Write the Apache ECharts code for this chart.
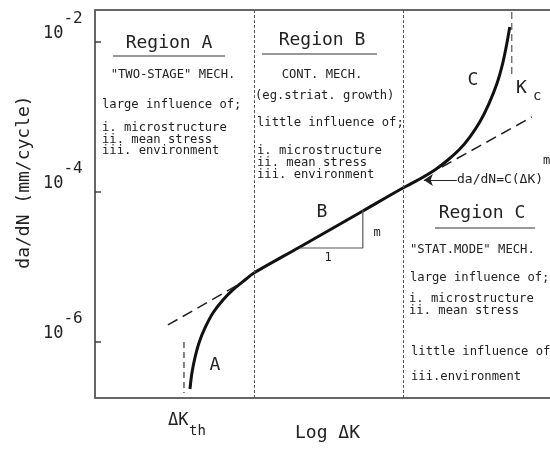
<!DOCTYPE html>
<html>
<head>
<meta charset="utf-8">
<title>Fatigue crack growth regions</title>
<script src="https://cdn.jsdelivr.net/npm/echarts@6/dist/echarts.min.js"></script>
<style>
html, body { margin: 0; padding: 0; background: #fff; }
#main { width: 550px; height: 449px; }
</style>
</head>
<body>
<div id="main"></div>
<script>
// y = exponent of da/dN (mm/cycle), x = log dK in arbitrary units
const yTicks = [-6, -4, -2];
const regionBounds = [2.12, 4.107];

// the sigmoidal growth curve: threshold (A), Paris line (B), fast fracture (C)
const crackCurve = [
  [1.267, -6.627], [1.293, -6.413], [1.333, -6.213], [1.387, -6.013],
  [1.467, -5.813], [1.573, -5.613], [1.707, -5.44], [1.853, -5.293],
  [2.0, -5.173], [2.12, -5.08],
  [2.733, -4.733], [3.573, -4.253],
  [4.107, -3.947], [4.333, -3.827], [4.533, -3.707], [4.707, -3.573],
  [4.867, -3.427], [5.0, -3.267], [5.133, -3.067], [5.253, -2.827],
  [5.36, -2.56], [5.44, -2.28], [5.493, -2.027], [5.533, -1.8]
];
const tangentLow = [[0.973, -5.773], [1.973, -5.2]];
const tangentHigh = [[4.627, -3.667], [5.827, -3.0]];
const thresholdMark = [[1.187, -6.0], [1.187, -6.68]];
const kcMark = [[5.56, -1.6], [5.56, -2.467]];
const slopeTriangle = [[2.733, -4.747], [3.573, -4.747], [3.573, -4.24]];
const arrowLine = [[4.827, -3.84], [4.387, -3.84]];

const regionANotes = ['large influence of;', 'i. microstructure', 'ii. mean stress', 'iii. environment'];
const regionBNotes = ['i. microstructure', 'ii. mean stress', 'iii. environment'];

const MONO = '"DejaVu Sans Mono", monospace';
const INK = '#222';

function txt(x, y, text, size, align) {
  return {
    type: 'text', x: x, y: y, silent: true,
    style: {
      text: text, fill: INK, fontFamily: MONO, fontSize: size,
      align: align || 'left', verticalAlign: 'middle'
    }
  };
}
function rule(x1, y1, x2, y2) {
  return {
    type: 'line', silent: true,
    shape: { x1: x1, y1: y1, x2: x2, y2: y2 },
    style: { stroke: '#333', lineWidth: 1.2 }
  };
}

const small = 12.2;
const graphics = [
  // region A
  txt(169, 43, 'Region A', 18, 'center'),
  rule(113, 56, 225, 56),
  txt(173, 75, '"TWO-STAGE" MECH.', small, 'center'),
  txt(102, 105, regionANotes[0], small),
  txt(102, 128, regionANotes[1], small),
  txt(102, 140, regionANotes[2], small),
  txt(102, 151, regionANotes[3], small),
  // region B
  txt(322, 40, 'Region B', 18, 'center'),
  rule(262, 54, 377, 54),
  txt(322, 75, 'CONT. MECH.', small, 'center'),
  txt(255, 96, '(eg.striat. growth)', small),
  txt(257, 123, 'little influence of;', small),
  txt(257, 151, regionBNotes[0], small),
  txt(257, 163, regionBNotes[1], small),
  txt(257, 175, regionBNotes[2], small),
  // region C
  txt(482, 213, 'Region C', 18, 'center'),
  rule(435, 228, 535, 228),
  txt(410, 250, '"STAT.MODE" MECH.', small),
  txt(410, 278, 'large influence of;', small),
  txt(409, 299, 'i. microstructure', small),
  txt(409, 311, 'ii. mean stress', small),
  txt(411, 352, 'little influence of', small),
  txt(411, 377, 'iii.environment', small),
  // curve notes
  txt(215, 365, 'A', 18, 'center'),
  txt(322, 212, 'B', 18, 'center'),
  txt(473, 80, 'C', 18, 'center'),
  txt(516, 88, 'K', 18),
  txt(533, 96, 'c', 14),
  txt(377, 233, 'm', 12, 'center'),
  txt(328, 258, '1', 12, 'center'),
  txt(457, 180, 'da/dN=C(ΔK)', 13),
  txt(543, 161, 'm', 12),
  // axis titles
  txt(168, 421, 'ΔK', 17),
  txt(189, 431, 'th', 14),
  txt(295, 433, 'Log ΔK', 18),
  Object.assign(txt(24, 182, 'da/dN (mm/cycle)', 18, 'center'), { rotation: Math.PI / 2 })
];

const frameAxis = {
  type: 'value', min: 0, max: 6.07,
  axisLine: { show: true, onZero: false, lineStyle: { color: '#666', width: 2 } },
  axisTick: { show: false },
  axisLabel: { show: false },
  splitLine: { show: false }
};

const option = {
  animation: false,
  backgroundColor: '#fff',
  grid: { left: 95, right: 0, top: 10, bottom: 51 },
  xAxis: [
    Object.assign({ position: 'bottom' }, frameAxis),
    Object.assign({ position: 'top' }, frameAxis)
  ],
  yAxis: {
    type: 'value', min: -6.747, max: -1.573,
    splitLine: { show: false },
    axisLine: { show: true, onZero: false, lineStyle: { color: '#666', width: 2 } },
    axisTick: {
      show: true, inside: true, length: 6, customValues: yTicks,
      lineStyle: { color: '#444', width: 1.5 }
    },
    axisLabel: {
      customValues: yTicks,
      formatter: function (v) { return '{b|10}{e|' + v + '}{s| }'; },
      verticalAlign: 'bottom',
      margin: 12,
      rich: {
        b: { fontFamily: MONO, fontSize: 17, lineHeight: 17, verticalAlign: 'bottom', color: INK },
        e: { fontFamily: MONO, fontSize: 16, lineHeight: 16, verticalAlign: 'top', color: INK },
        s: { fontSize: 1, lineHeight: 31 }
      }
    }
  },
  graphic: graphics,
  series: [
    {
      name: 'da/dN',
      type: 'line',
      data: crackCurve,
      smooth: 0.3,
      symbol: 'none',
      silent: true,
      lineStyle: { color: '#111', width: 3 },
      markLine: {
        silent: true,
        symbol: 'none',
        label: { show: false },
        lineStyle: { color: '#555', width: 1, type: [3, 2] },
        data: regionBounds.map(function (v) { return { xAxis: v }; })
      }
    },
    {
      type: 'line', data: tangentLow, symbol: 'none', silent: true,
      lineStyle: { color: INK, width: 1.5, type: [11, 6] }
    },
    {
      type: 'line', data: tangentHigh, symbol: 'none', silent: true,
      lineStyle: { color: INK, width: 1.5, type: [11, 6] },
      markLine: {
        silent: true,
        symbol: ['none', 'arrow'],
        symbolSize: 9,
        label: { show: false },
        lineStyle: { color: INK, width: 1.2, type: 'solid' },
        data: [[{ coord: arrowLine[0] }, { coord: arrowLine[1] }]]
      }
    },
    {
      type: 'line', data: thresholdMark, symbol: 'none', silent: true,
      lineStyle: { color: '#333', width: 1.2, type: [6, 4] }
    },
    {
      type: 'line', data: kcMark, symbol: 'none', silent: true,
      lineStyle: { color: '#555', width: 1.2, type: [7, 4] }
    },
    {
      type: 'line', data: slopeTriangle, symbol: 'none', silent: true,
      lineStyle: { color: '#555', width: 1.2 }
    }
  ]
};

const myChart = echarts.init(document.getElementById('main'));
myChart.setOption(option);
</script>
</body>
</html>
